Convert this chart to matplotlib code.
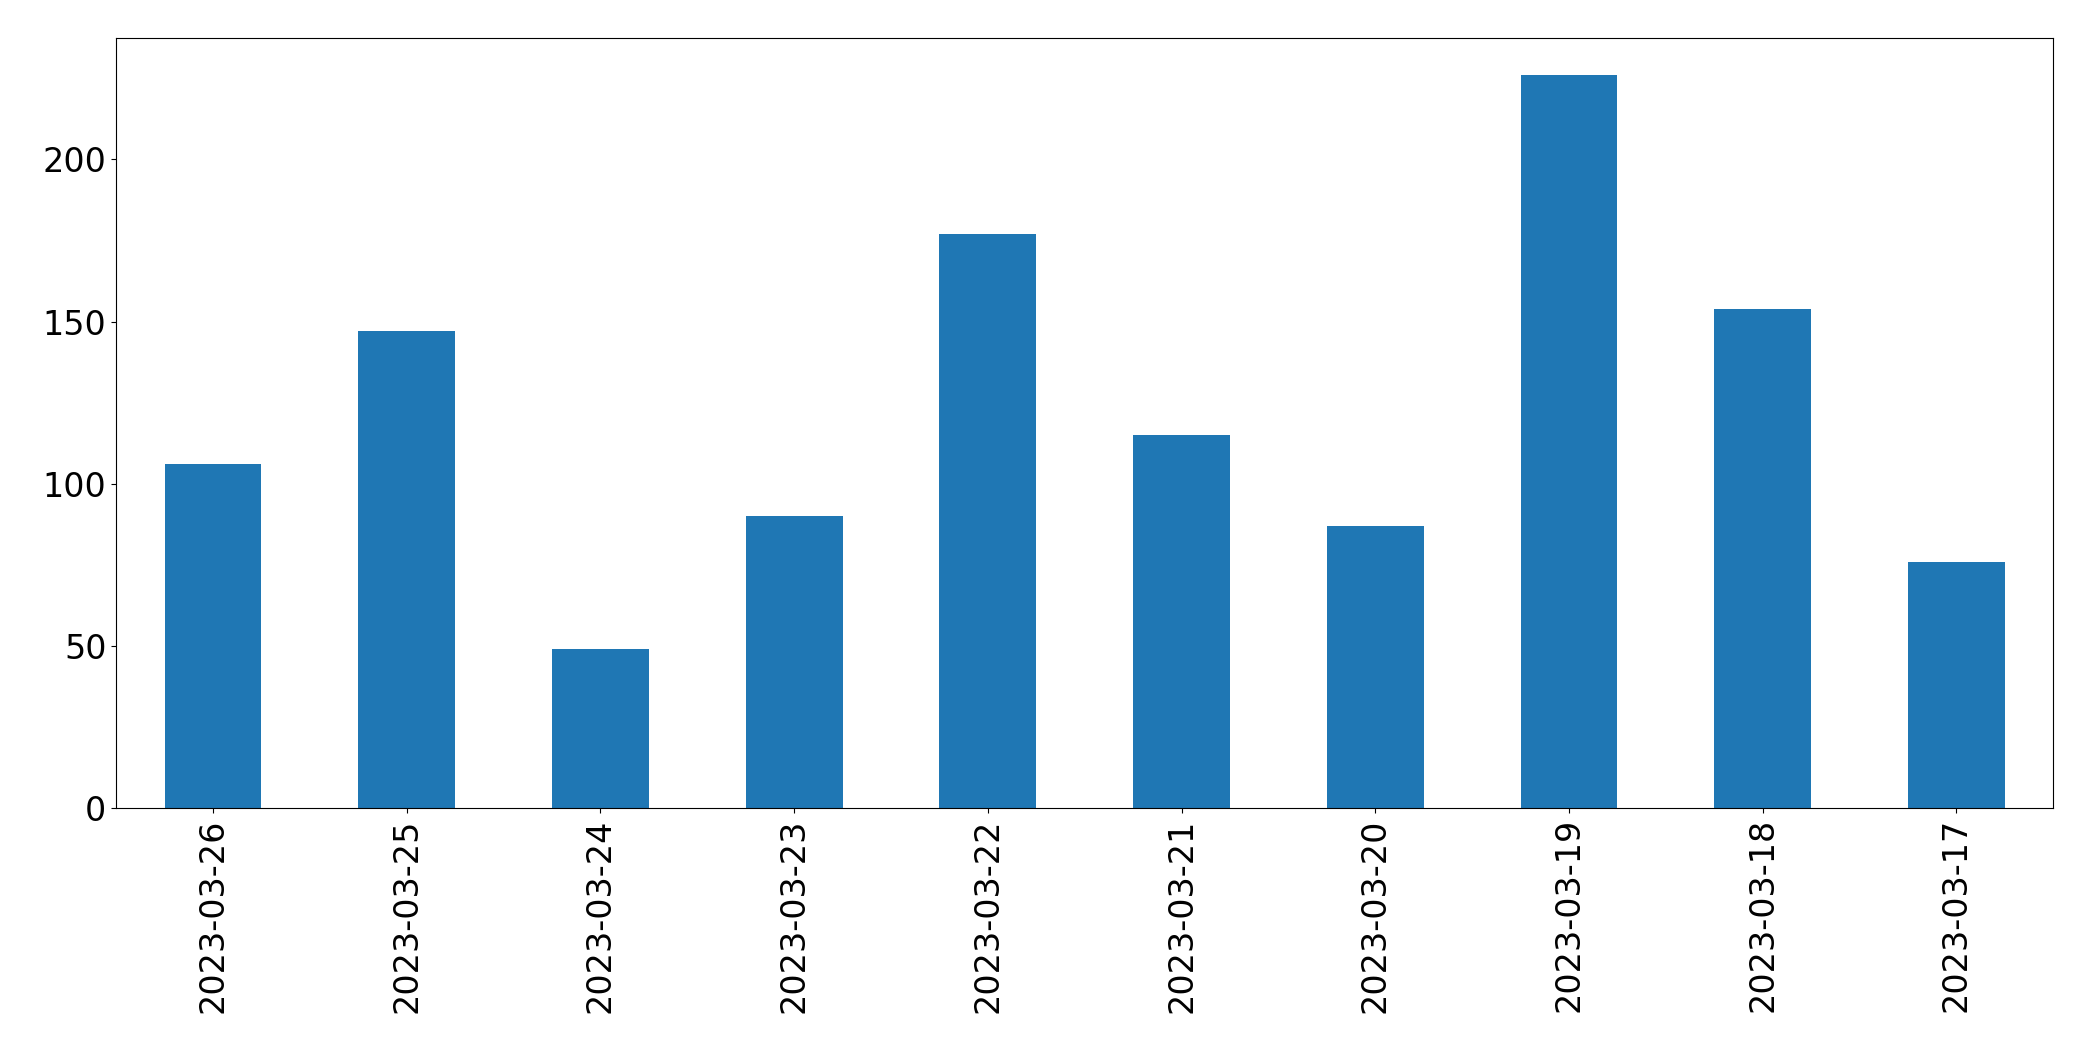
import matplotlib
matplotlib.use("Agg")
import matplotlib.pyplot as plt

dates = ["2023-03-26","2023-03-25","2023-03-24","2023-03-23","2023-03-22",
         "2023-03-21","2023-03-20","2023-03-19","2023-03-18","2023-03-17"]
values = [106, 147, 49, 90, 177, 115, 87, 226, 154, 76]

fig = plt.figure(figsize=(20.93, 10.61), dpi=100)
ax = fig.add_axes([0.0555, 0.238, 0.9255, 0.726])
ax.bar(range(len(dates)), values, width=0.5, color="#1f77b4")
ax.set_xticks(range(len(dates)))
ax.set_xticklabels(dates, rotation=90)
ax.set_xlim(-0.5, len(dates) - 0.5)
ax.tick_params(labelsize=24)
fig.savefig("out.png", dpi=100)
